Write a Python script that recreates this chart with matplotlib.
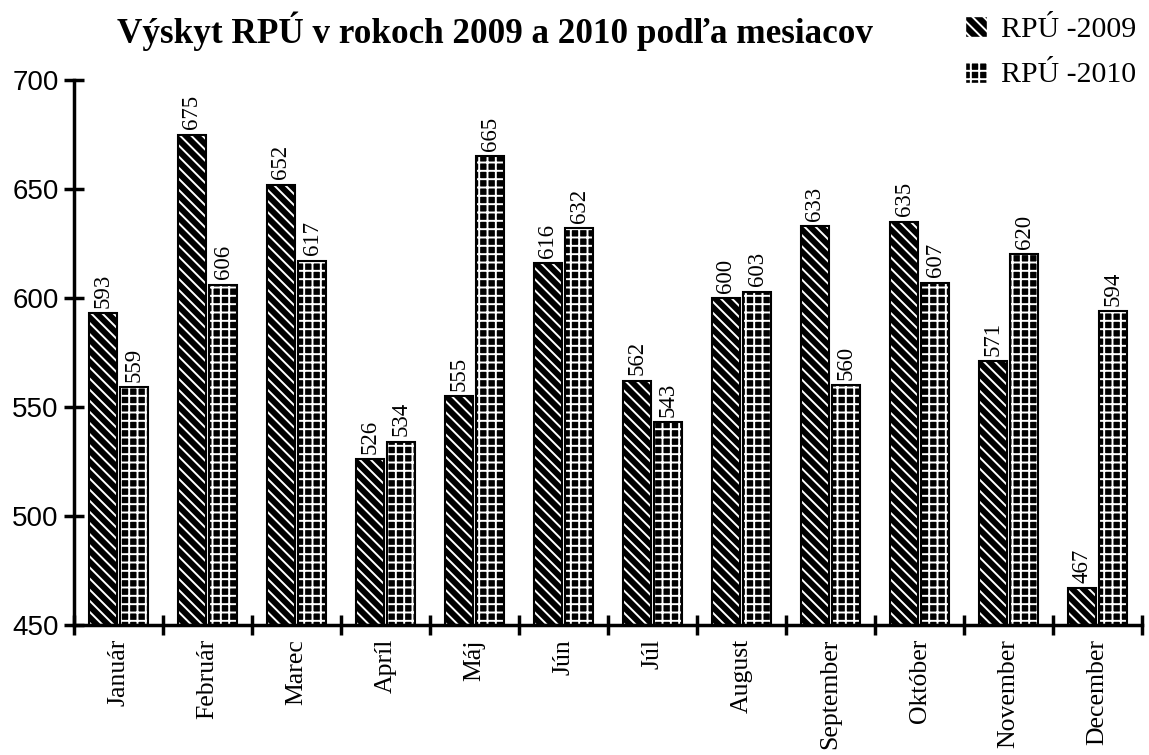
import numpy as np
import matplotlib.pyplot as plt
from matplotlib.patches import Patch

months = ['Január', 'Február', 'Marec', 'Apríl', 'Máj', 'Jún', 'Júl',
          'August', 'September', 'Október', 'November', 'December']
rpu_2009 = [593, 675, 652, 526, 555, 616, 562, 600, 633, 635, 571, 467]
rpu_2010 = [559, 606, 617, 534, 665, 632, 543, 603, 560, 607, 620, 594]

plt.rcParams['hatch.linewidth'] = 1.4
serif = 'Liberation Serif'
sans = 'Liberation Sans'

fig = plt.figure(figsize=(11.49, 7.55), dpi=100)
ax = fig.add_axes([0.0644, 0.172, 0.9296, 0.722])

x = np.arange(len(months))
w = 0.31
off = 0.175
base = 450
h09 = '\\\\\\'
h10 = '++'

for vals, dx, hatch in [(rpu_2009, -off, h09), (rpu_2010, off, h10)]:
    h = np.array(vals) - base
    ax.bar(x + dx, h, w, bottom=base, color='black', edgecolor='white',
           hatch=hatch, linewidth=0)
    ax.bar(x + dx, h, w, bottom=base, fill=False, edgecolor='black',
           linewidth=1.5)
    for xi, v in zip(x + dx, vals):
        ax.annotate(str(v), (xi, v), xytext=(0, 4), textcoords='offset points',
                    rotation=90, ha='center', va='bottom',
                    family=serif, fontsize=16.5)

ax.set_xlim(-0.5, 11.5)
ax.set_ylim(450, 700)
ax.set_yticks(range(450, 701, 50))
ax.set_xticks(np.arange(-0.5, 11.6, 1))
ax.set_xticklabels([])
ax.set_xticks(x, minor=True)
ax.set_xticklabels(months, minor=True, rotation=90, family=serif, fontsize=18.5,
                   va='top')
ax.tick_params(axis='x', which='minor', length=0, pad=10)
ax.tick_params(axis='x', which='major', direction='inout', length=14, width=2.5)
ax.tick_params(axis='y', direction='inout', length=14, width=2.5, pad=4)
for lab in ax.get_yticklabels():
    lab.set_family(sans)
    lab.set_fontsize(20)

for s in ['top', 'right']:
    ax.spines[s].set_visible(False)
for s in ['left', 'bottom']:
    ax.spines[s].set_linewidth(2.5)

fig.text(0.431, 0.958, 'Výskyt RPÚ v rokoch 2009 a 2010 podľa mesiacov',
         ha='center', va='center', family=serif, fontsize=25.3,
         fontweight='bold')

handles = [Patch(facecolor='black', edgecolor='white', hatch=h09),
           Patch(facecolor='black', edgecolor='white', hatch=h10)]
fig.legend(handles, ['RPÚ -2009', 'RPÚ -2010'], loc='upper right',
           bbox_to_anchor=(1.012, 1.015), frameon=False,
           prop={'family': serif, 'size': 21.5}, handlelength=0.75,
           handleheight=0.75, handletextpad=0.45, labelspacing=0.6)

fig.savefig('out.png', dpi=100)
